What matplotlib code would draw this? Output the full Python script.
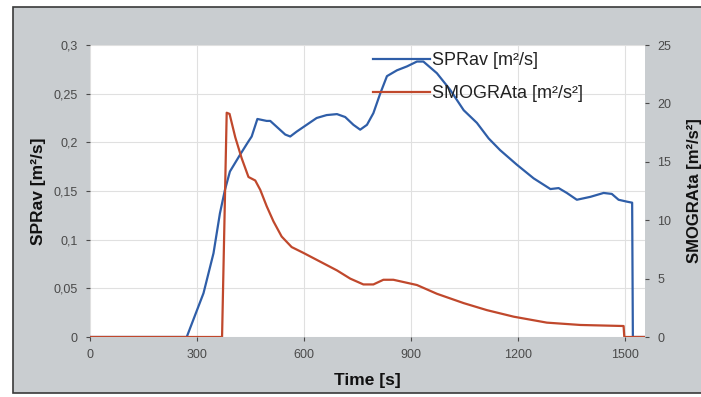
import matplotlib.pyplot as plt
from matplotlib.patches import Rectangle
from matplotlib.ticker import FuncFormatter

plt.rcParams['font.family'] = ['Liberation Sans', 'DejaVu Sans']

# SPRav [m2/s] (left axis)
spr_t = [0, 271, 318, 346, 364, 378, 392, 420, 444, 453, 469, 495, 505, 523, 547, 561,
         579, 607, 635, 663, 692, 715, 738, 757, 776, 794, 813, 832, 860, 888, 916, 934,
         972, 1009, 1047, 1084, 1117, 1149, 1196, 1243, 1290, 1313, 1336, 1364, 1402,
         1439, 1462, 1481, 1505, 1519, 1521, 1555]
spr_v = [0, 0, 0.045, 0.086, 0.127, 0.151, 0.170, 0.187, 0.201, 0.206, 0.224, 0.222,
         0.222, 0.216, 0.208, 0.206, 0.211, 0.218, 0.225, 0.228, 0.229, 0.226, 0.218,
         0.213, 0.218, 0.230, 0.250, 0.268, 0.274, 0.278, 0.283, 0.283, 0.271, 0.254,
         0.233, 0.220, 0.204, 0.192, 0.177, 0.163, 0.152, 0.153, 0.148, 0.141, 0.144,
         0.148, 0.147, 0.141, 0.139, 0.138, 0, 0]

# SMOGRAta [m2/s2] (right axis)
smog_t = [0, 370, 383, 391, 407, 425, 444, 463, 477, 495, 514, 537, 565, 598, 645, 692,
          729, 766, 794, 822, 850, 916, 972, 1047, 1112, 1187, 1280, 1374, 1495, 1497, 1555]
smog_v = [0, 0, 19.2, 19.1, 17.1, 15.3, 13.7, 13.4, 12.6, 11.2, 9.9, 8.6, 7.7, 7.2, 6.45,
          5.7, 5.0, 4.5, 4.5, 4.9, 4.9, 4.45, 3.7, 2.9, 2.3, 1.74, 1.23, 1.03, 0.94, 0, 0]

x_ticks = [0, 300, 600, 900, 1200, 1500]
left_ticks = [0, 0.05, 0.1, 0.15, 0.2, 0.25, 0.3]
right_ticks = [0, 5, 10, 15, 20, 25]

blue = '#2f5ea8'
red = '#c0482c'
tick_color = '#4a4a4a'

fig = plt.figure(figsize=(7.01, 3.97), dpi=100)
fig.patch.set_facecolor('white')
# grey chart frame of the scanned excel chart
frame = Rectangle((13 / 701, 4 / 397), 1.0, 386 / 397, transform=fig.transFigure,
                  facecolor='#c9cdd0', edgecolor='#3a3a3a', linewidth=1.2)
frame.set_zorder(-10)
fig.add_artist(frame)

ax = fig.add_axes([90 / 701, 60 / 397, 555 / 701, 292 / 397])
ax.set_facecolor('white')
ax.plot(spr_t, spr_v, color=blue, linewidth=1.6, label='SPRav [m²/s]')
ax.set_xlim(0, 1555)
ax.set_ylim(0, 0.3)
ax.set_xticks(x_ticks)
ax.set_yticks(left_ticks)
ax.yaxis.set_major_formatter(FuncFormatter(lambda v, p: ('%g' % v).replace('.', ',')))
ax.grid(True, color='#e0e0e0', linewidth=0.8)
ax.set_axisbelow(True)
ax.set_xlabel('Time [s]', fontsize=12.5, fontweight='bold', color='#111111', labelpad=8)
ax.set_ylabel('SPRav [m²/s]', fontsize=12.5, fontweight='bold', color='#111111', labelpad=5)

ax2 = ax.twinx()
ax2.plot(smog_t, smog_v, color=red, linewidth=1.6, label='SMOGRAta [m²/s²]')
ax2.set_ylim(0, 25)
ax2.set_yticks(right_ticks)
ax2.set_ylabel('SMOGRAta [m²/s²]', fontsize=12, fontweight='bold', color='#111111',
               rotation=90, labelpad=11)

for a in (ax, ax2):
    for s in a.spines.values():
        s.set_visible(False)
    a.tick_params(colors=tick_color, labelsize=9, length=3, width=0.8, pad=6)

h1, l1 = ax.get_legend_handles_labels()
h2, l2 = ax2.get_legend_handles_labels()
leg = ax2.legend(h1 + h2, l1 + l2, loc='upper left', bbox_to_anchor=(0.48, 1.03),
                 frameon=False, fontsize=13, handlelength=3.2, handletextpad=0.1,
                 labelspacing=0.85)
for t in leg.get_texts():
    t.set_color('#222222')

fig.savefig('out.png', dpi=100, facecolor=fig.get_facecolor())
